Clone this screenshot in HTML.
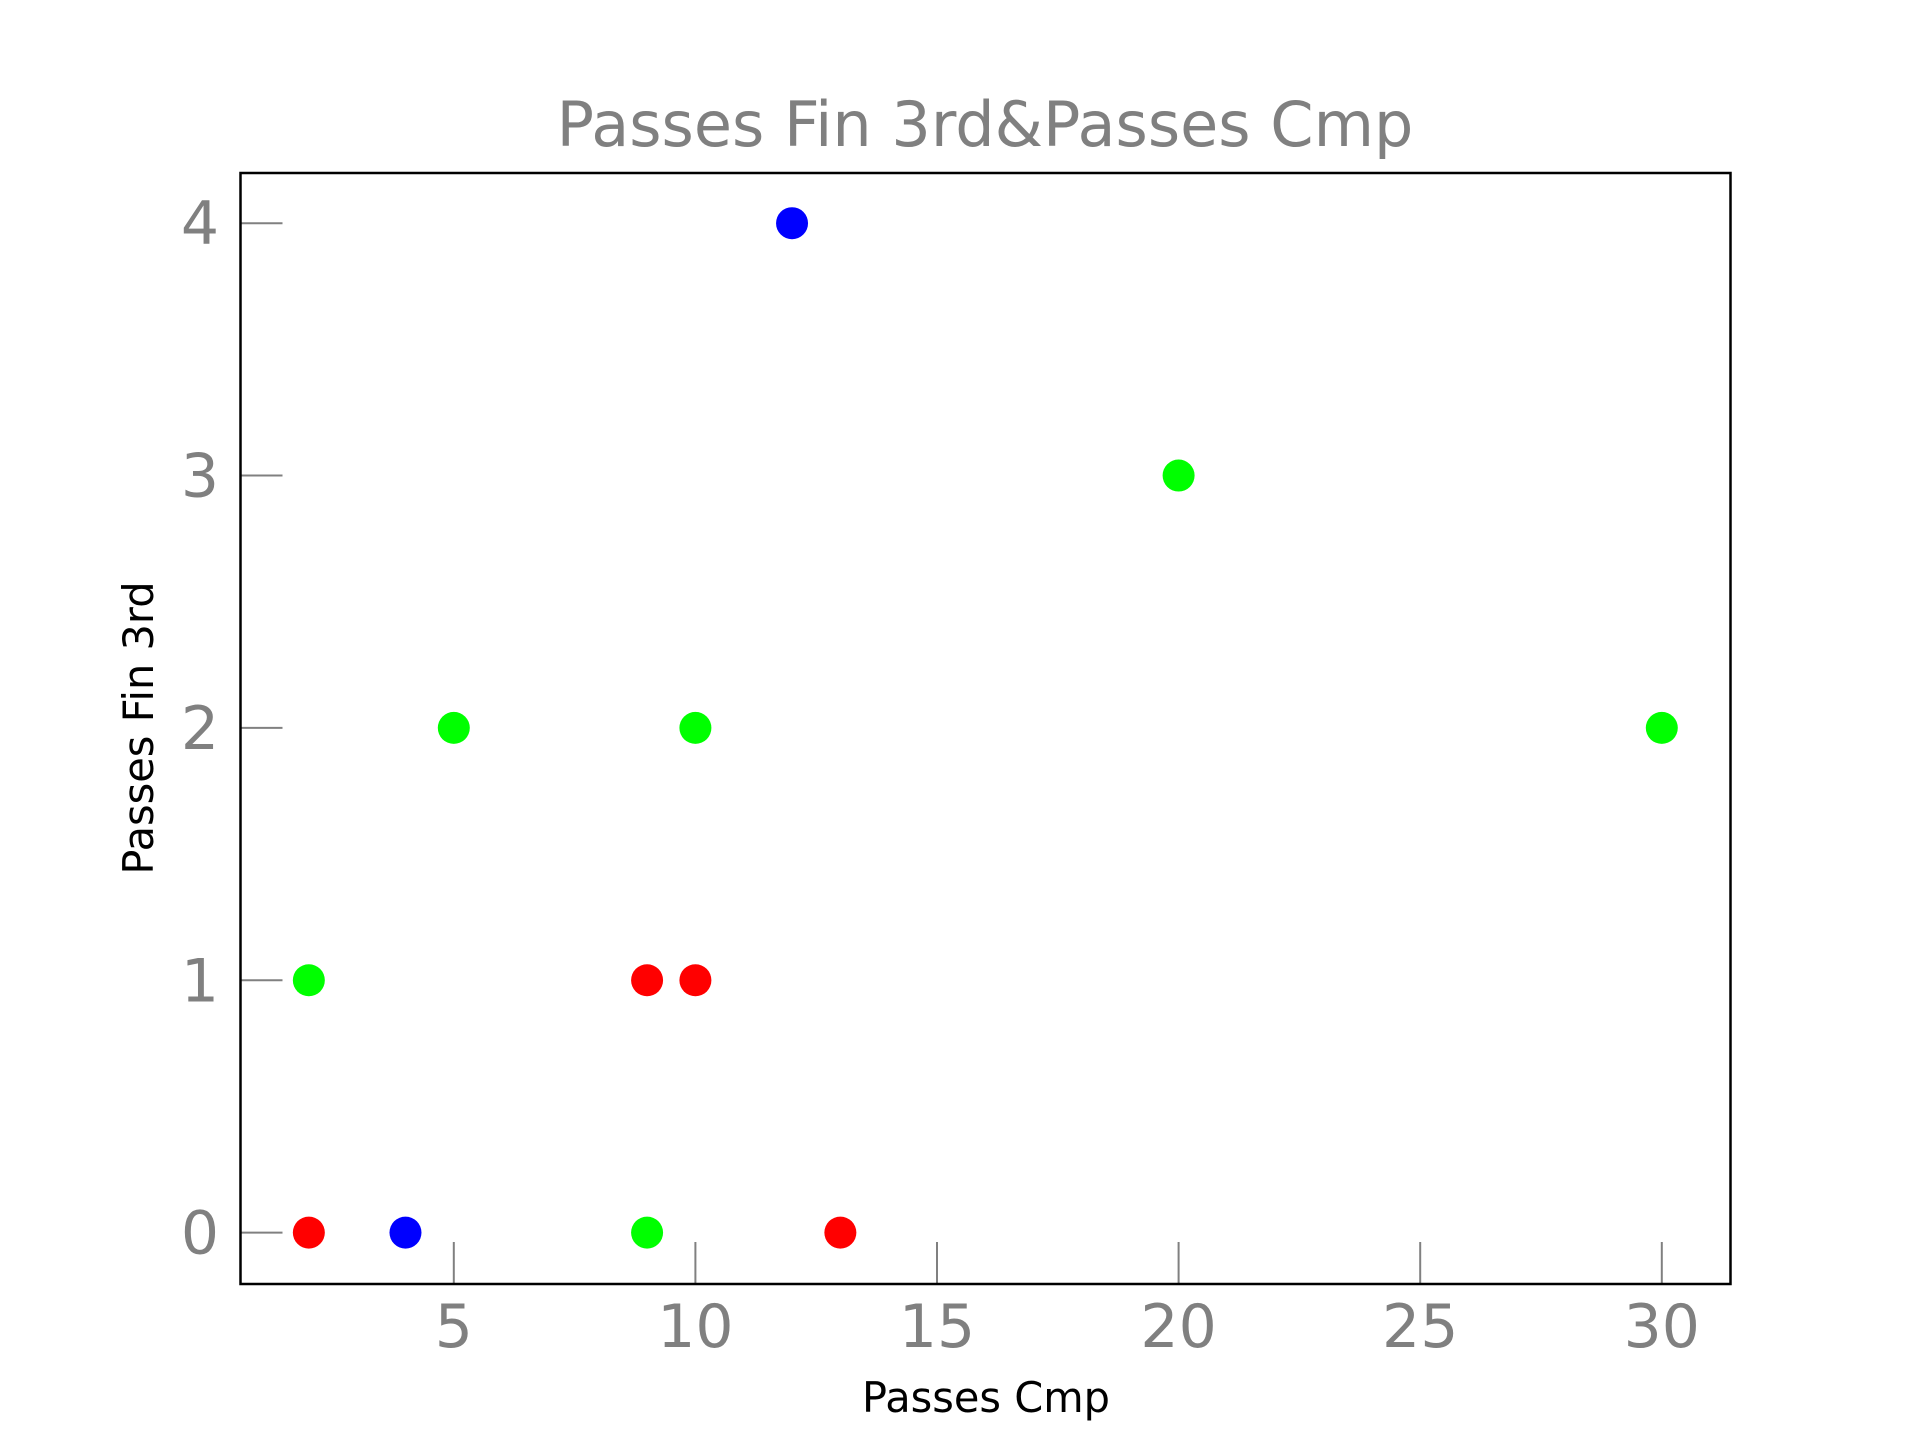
<!DOCTYPE html>
<html><head><meta charset="utf-8"><style>body{margin:0;background:#fff}svg{display:block}</style></head>
<body>
<svg id="chart" width="1920" height="1440" xmlns="http://www.w3.org/2000/svg" font-family="DejaVu Sans, Liberation Sans, sans-serif">
<text x="985" y="146" font-size="62" fill="#808080" text-anchor="middle">Passes Fin 3rd&amp;Passes Cmp</text>
<text x="986" y="1412" font-size="41.5" fill="#000" text-anchor="middle">Passes Cmp</text>
<text x="0" y="0" font-size="41.5" fill="#000" text-anchor="middle" transform="translate(153,728) rotate(-90)">Passes Fin 3rd</text>
<g id="ticks"></g>
<g id="points"></g>
<rect x="240.5" y="173" width="1490" height="1111" fill="none" stroke="#000" stroke-width="2.5"/>
</svg>
<script>
const xTicks=[5,10,15,20,25,30];
const yTicks=[0,1,2,3,4];
const redX=[2,9,10,13];
const redY=[0,1,1,0];
const blueX=[4,12];
const blueY=[0,4];
const greenX=[2,5,10,9,20,30];
const greenY=[1,2,2,0,3,2];
const NS='http://www.w3.org/2000/svg';
const L=240.5,R=1730.5,T=173,B=1284;
function xs(v){return 453.8+(v-5)*48.32;}
function ys(v){return 1232.6-v*252.35;}
const tg=document.getElementById('ticks');
function mk(tag,attrs,parent){const e=document.createElementNS(NS,tag);for(const k in attrs)e.setAttribute(k,attrs[k]);parent.appendChild(e);return e;}
xTicks.forEach(t=>{
 const l=mk('line',{x1:xs(t),x2:xs(t),y1:B,y2:B-42,stroke:'#808080','stroke-width':2},tg);
 
 
 const tx=mk('text',{x:xs(t),y:1347,'font-size':60,fill:'#808080','text-anchor':'middle'},tg);
 tx.textContent=t;
 
 
});
yTicks.forEach(t=>{
 const l=mk('line',{x1:L,x2:L+42,y1:ys(t),y2:ys(t),stroke:'#808080','stroke-width':2},tg);
 
 
 const tx=mk('text',{x:219,y:ys(t)+21,'font-size':60,fill:'#808080','text-anchor':'end'},tg);
 tx.textContent=t;
 
 
});
const pg=document.getElementById('points');
function series(X,Y,c,name){X.forEach((x,i)=>{
 const p=mk('circle',{cx:xs(x),cy:ys(Y[i]),r:16,fill:c},pg);
 
 
});}
series(redX,redY,'#ff0000','red-point');
series(blueX,blueY,'#0000ff','blue-point');
series(greenX,greenY,'#00ff00','green-point');
</script>
</body></html>
